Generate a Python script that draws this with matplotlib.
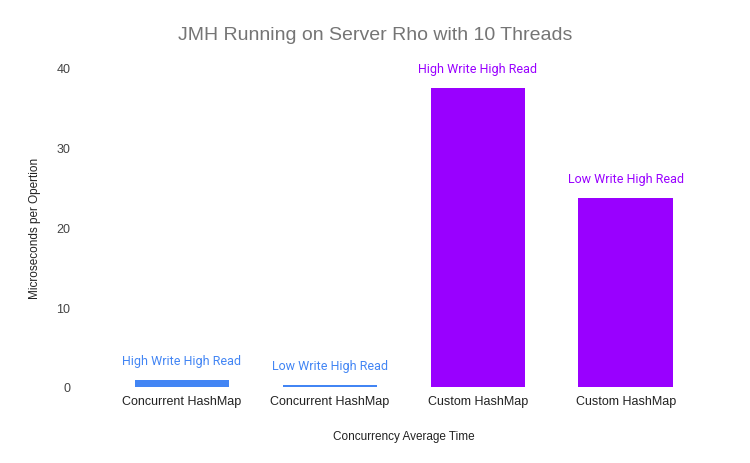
import matplotlib.pyplot as plt
import numpy as np

categories = ['Concurrent HashMap', 'Concurrent HashMap', 'Custom HashMap', 'Custom HashMap']
values = [0.9, 0.25, 37.5, 23.7]
bar_labels = ['High Write High Read', 'Low Write High Read', 'High Write High Read', 'Low Write High Read']
colors = ['#4285F4', '#4285F4', '#9900FF', '#9900FF']

fig = plt.figure(figsize=(7.5, 4.64), dpi=100)
ax = fig.add_axes([0.144, 0.1638, 0.789, 0.6875])

x = np.arange(len(values))
ax.bar(x, values, width=0.64, color=colors)

for xi, v, lab, c in zip(x, values, bar_labels, colors):
    ax.annotate(lab, (xi, v), xytext=(0, 13), textcoords='offset pixels',
                ha='center', va='bottom', color=c, fontsize=9, family='Roboto')

ax.set_xlim(-0.5, 3.5)
ax.set_ylim(0, 40)
ax.set_yticks([0, 10, 20, 30, 40])
ax.set_xticks(x)
ax.set_xticklabels(categories, family='Liberation Sans', fontsize=9, color='#222222')
for t in ax.get_yticklabels():
    t.set_family('Liberation Sans')
    t.set_fontsize(9)
    t.set_color('#444444')
ax.tick_params(axis='both', length=0)
ax.tick_params(axis='y', pad=27)
ax.tick_params(axis='x', pad=6)
for s in ax.spines.values():
    s.set_visible(False)

ax.set_ylabel('Microseconds per Opertion', family='Liberation Sans', fontsize=8.5, color='#222222', labelpad=11)
ax.set_xlabel('Concurrency Average Time', family='Liberation Sans', fontsize=8.5, color='#222222', labelpad=16)
fig.text(0.5, 1 - 35 / 464, 'JMH Running on Server Rho with 10 Threads', ha='center', va='center',
         family='Liberation Sans', fontsize=14, color='#757575')

plt.savefig('out.png', dpi=100)
